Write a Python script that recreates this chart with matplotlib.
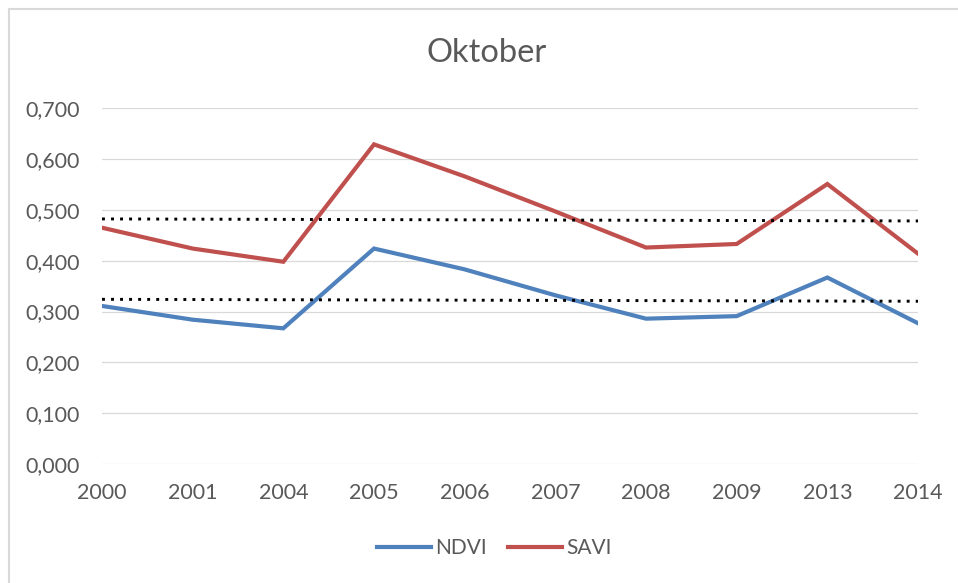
import numpy as np
import matplotlib.pyplot as plt
from matplotlib.patches import Rectangle
from matplotlib.ticker import FuncFormatter

years = ["2000", "2001", "2004", "2005", "2006", "2007", "2008", "2009", "2013", "2014"]
ndvi = [0.311, 0.284, 0.267, 0.424, 0.383, 0.332, 0.286, 0.291, 0.367, 0.277]
savi = [0.465, 0.424, 0.398, 0.629, 0.566, 0.497, 0.426, 0.433, 0.551, 0.414]

plt.rcParams['font.family'] = ['Lato', 'DejaVu Sans']
textColor = '#595959'

fig = plt.figure(figsize=(9.58, 5.83), dpi=100)
ax = fig.add_axes([102 / 958, 1 - 464 / 583, 816 / 958, (464 - 108.3) / 583])

x = np.arange(len(years))
ax.plot(x, ndvi, color='#4F81BD', lw=3, label='NDVI', solid_joinstyle='miter', zorder=3)
ax.plot(x, savi, color='#C0504D', lw=3, label='SAVI', solid_joinstyle='miter', zorder=3)

# linear trend lines, like the Excel trendline
for series in (ndvi, savi):
    k, b = np.polyfit(x, series, 1)
    ax.plot(x, k * x + b, color='black', lw=2.1, linestyle=(0, (1, 2.1)), zorder=4)

ax.set_xlim(0, len(years) - 1)
ax.set_ylim(0, 0.7)
ax.set_yticks(np.arange(0, 0.71, 0.1))
ax.yaxis.set_major_formatter(FuncFormatter(lambda v, p: f"{v:.3f}".replace('.', ',')))
ax.set_xticks(x)
ax.set_xticklabels(years)
ax.grid(axis='y', color='#D9D9D9', lw=0.9)
ax.set_axisbelow(True)
for side in ('top', 'right', 'left', 'bottom'):
    ax.spines[side].set_visible(False)
ax.tick_params(axis='y', length=0, pad=16, labelsize=15.5, labelcolor=textColor)
ax.tick_params(axis='x', length=0, pad=14, labelsize=15.5, labelcolor=textColor)

fig.text(487 / 958, 1 - 53 / 583, 'Oktober', ha='center', va='center',
         fontsize=23.5, color=textColor)

handles, labels = ax.get_legend_handles_labels()
fig.legend(handles, labels, loc='center', bbox_to_anchor=(494 / 958, 1 - 548 / 583),
           ncol=2, frameon=False, fontsize=15, labelcolor=textColor,
           handlelength=2.6, handletextpad=0.2, columnspacing=1.0)

# chart area border (only left and top visible in the crop)
fig.patches.append(Rectangle((8.5 / 958, -0.1), 1.2, 1 - 8.5 / 583 + 0.1,
                             transform=fig.transFigure, fill=False,
                             edgecolor='#D9D9D9', lw=1.5))

fig.savefig('out.png', dpi=100)
